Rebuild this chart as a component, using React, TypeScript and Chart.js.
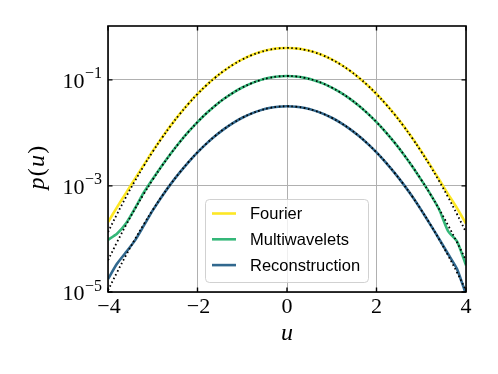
import React, { useEffect, useRef } from "react";
import { Chart, registerables } from "chart.js";
Chart.register(...registerables);

const U = [-4.0, -3.8, -3.6, -3.4, -3.2, -3.0, -2.8, -2.6, -2.4, -2.2, -2.0, -1.8, -1.6, -1.4, -1.2, -1.0, -0.8, -0.6, -0.4, -0.2, 0,
  0.2, 0.4, 0.6, 0.8, 1.0, 1.2, 1.4, 1.6, 1.8, 2.0, 2.2, 2.4, 2.6, 2.8, 3.0, 3.2, 3.4, 3.6, 3.8, 4.0];

const fourier = [2.07e-4, 3.95e-4, 7.3e-4, 1.36e-3, 2.48e-3, 4.55e-3, 8.0e-3, 0.0137, 0.0226, 0.0357, 0.0543, 0.0793, 0.1113, 0.1502, 0.1946, 0.2425, 0.2903, 0.3338, 0.369, 0.3917, 0.3995,
  0.3915, 0.3688, 0.3336, 0.2901, 0.2423, 0.1945, 0.15, 0.1111, 0.0791, 0.0541, 0.0356, 0.0225, 0.0137, 0.00798, 0.0045, 2.45e-3, 1.32e-3, 7.0e-4, 3.8e-4, 1.95e-4];
const fourierFit = [1.34e-4, 2.92e-4, 6.12e-4, 1.232e-3, 2.384e-3, 4.432e-3, 7.915e-3, 0.01358, 0.02239, 0.03547, 0.05399, 0.07895, 0.1109, 0.1497, 0.1942, 0.242, 0.2897, 0.3332, 0.3683, 0.391, 0.3989,
  0.391, 0.3683, 0.3332, 0.2897, 0.242, 0.1942, 0.1497, 0.1109, 0.07895, 0.05399, 0.03547, 0.02239, 0.01358, 7.915e-3, 4.432e-3, 2.384e-3, 1.232e-3, 6.12e-4, 2.92e-4, 1.34e-4];

const multiwavelets = [9.6e-5, 1.25e-4, 1.95e-4, 3.75e-4, 7.5e-4, 1.35e-3, 2.38e-3, 4.05e-3, 6.66e-3, 0.01053, 0.01601, 0.02341, 0.03288, 0.04437, 0.05755, 0.0717, 0.08582, 0.09872, 0.1091, 0.1159, 0.1182,
  0.1157, 0.1089, 0.0986, 0.0857, 0.07158, 0.05745, 0.04428, 0.03279, 0.02334, 0.01596, 0.01049, 6.62e-3, 4.01e-3, 2.33e-3, 1.3e-3, 7.1e-4, 3.6e-4, 1.4e-4, 9.0e-5, 3.2e-5];
const multiwaveletsFit = [3.96e-5, 8.64e-5, 1.81e-4, 3.65e-4, 7.06e-4, 1.312e-3, 2.343e-3, 4.021e-3, 6.629e-3, 0.0105, 0.01598, 0.02337, 0.03283, 0.04432, 0.05749, 0.07163, 0.08575, 0.09865, 0.109, 0.1158, 0.1181,
  0.1158, 0.109, 0.09865, 0.08575, 0.07163, 0.05749, 0.04432, 0.03283, 0.02337, 0.01598, 0.0105, 6.629e-3, 4.021e-3, 2.343e-3, 1.312e-3, 7.06e-4, 3.65e-4, 1.81e-4, 8.64e-5, 3.96e-5];

const reconstruction = [1.75e-5, 3.4e-5, 5.6e-5, 9.3e-5, 1.78e-4, 3.45e-4, 6.25e-4, 1.08e-3, 1.78e-3, 2.82e-3, 4.29e-3, 6.28e-3, 8.83e-3, 0.01192, 0.01547, 0.01928, 0.02308, 0.02655, 0.02934, 0.03116, 0.0318,
  0.03116, 0.02934, 0.02655, 0.02308, 0.01928, 0.01547, 0.01192, 8.83e-3, 6.28e-3, 4.29e-3, 2.82e-3, 1.78e-3, 1.08e-3, 6.3e-4, 3.5e-4, 1.88e-4, 1.0e-4, 5.2e-5, 2.7e-5, 9.0e-6];
const reconstructionFit = [1.07e-5, 2.33e-5, 4.88e-5, 9.82e-5, 1.9e-4, 3.53e-4, 6.31e-4, 1.083e-3, 1.785e-3, 2.828e-3, 4.3e-3, 6.29e-3, 8.84e-3, 0.01193, 0.01548, 0.01929, 0.02309, 0.02656, 0.02935, 0.03117, 0.0318,
  0.03117, 0.02935, 0.02656, 0.02309, 0.01929, 0.01548, 0.01193, 8.84e-3, 6.29e-3, 4.3e-3, 2.828e-3, 1.785e-3, 1.083e-3, 6.31e-4, 3.53e-4, 1.9e-4, 9.82e-5, 4.88e-5, 2.33e-5, 1.07e-5];

const X_TICKS = [-4, -2, 0, 2, 4];
const X_TICK_LABELS = ["\u22124", "\u22122", "0", "2", "4"];
const Y_TICKS = [1e-5, 1e-3, 1e-1];
const Y_TICK_EXP = ["\u22125", "\u22123", "\u22121"];
const LEGEND_LABELS = ["Fourier", "Multiwavelets", "Reconstruction"];
const COLORS = ["#fde725", "#35b779", "#31688e"];

const SERIF = "'Liberation Serif', 'DejaVu Serif', serif";
const SANS = "'Liberation Sans', 'DejaVu Sans', sans-serif";

export default function App() {
  const ref = useRef<HTMLCanvasElement>(null);
  useEffect(() => {
    const pts = (ys: number[]) => U.map((x, i) => ({ x, y: ys[i] }));
    const series = [fourier, multiwavelets, reconstruction];
    const fits = [fourierFit, multiwaveletsFit, reconstructionFit];

    const overlay = {
      id: "overlay",
      afterDraw(chart: any) {
        const { ctx, chartArea: a, scales } = chart;
        const xs = scales.x, ys = scales.y;
        ctx.save();

        // legend
        const cx = (a.left + a.right) / 2;
        const bw = 163, bh = 83;
        const bx = cx - bw / 2, by = a.bottom - 9.5 - bh;
        ctx.beginPath();
        ctx.roundRect(bx, by, bw, bh, 4);
        ctx.fillStyle = "rgba(255,255,255,0.8)";
        ctx.fill();
        ctx.strokeStyle = "rgba(204,204,204,0.9)";
        ctx.lineWidth = 1;
        ctx.stroke();
        ctx.font = `16.5px ${SANS}`;
        ctx.textBaseline = "middle";
        ctx.textAlign = "left";
        for (let i = 0; i < 3; i++) {
          const yy = by + 14 + i * 25.8;
          ctx.strokeStyle = COLORS[i];
          ctx.lineWidth = 2.6;
          ctx.beginPath();
          ctx.moveTo(bx + 6.5, yy);
          ctx.lineTo(bx + 30.5, yy);
          ctx.stroke();
          ctx.fillStyle = "#000";
          ctx.fillText(LEGEND_LABELS[i], bx + 44.5, yy + 1);
        }

        // frame
        ctx.strokeStyle = "#000";
        ctx.lineWidth = 1.6;
        ctx.strokeRect(a.left, a.top, a.right - a.left, a.bottom - a.top);

        // inward ticks
        ctx.lineWidth = 1.4;
        const tl = 4.5;
        for (const v of X_TICKS) {
          const px = xs.getPixelForValue(v);
          ctx.beginPath();
          ctx.moveTo(px, a.bottom); ctx.lineTo(px, a.bottom - tl);
          ctx.moveTo(px, a.top); ctx.lineTo(px, a.top + tl);
          ctx.stroke();
        }
        for (const v of Y_TICKS) {
          const py = ys.getPixelForValue(v);
          ctx.beginPath();
          ctx.moveTo(a.left, py); ctx.lineTo(a.left + tl, py);
          ctx.moveTo(a.right, py); ctx.lineTo(a.right - tl, py);
          ctx.stroke();
        }

        // x tick labels
        ctx.fillStyle = "#000";
        ctx.textBaseline = "alphabetic";
        ctx.textAlign = "center";
        ctx.font = `22px ${SERIF}`;
        X_TICKS.forEach((v, i) => {
          const px = xs.getPixelForValue(v);
          ctx.fillText(X_TICK_LABELS[i], px + (v < 0 ? 1 : 0), a.bottom + 21);
        });

        // y tick labels
        Y_TICKS.forEach((v, i) => {
          const py = ys.getPixelForValue(v);
          const right = a.left - 6;
          ctx.textAlign = "right";
          ctx.font = `16px ${SERIF}`;
          ctx.fillText(Y_TICK_EXP[i], right, py - 1.5);
          const ew = ctx.measureText(Y_TICK_EXP[i]).width;
          ctx.font = `22px ${SERIF}`;
          ctx.fillText("10", right - ew - 0.5, py + 7.7);
        });

        // x title
        ctx.textAlign = "center";
        ctx.font = `italic 24px ${SERIF}`;
        ctx.fillText("u", cx, a.bottom + 48);

        // y title p(u), rotated
        ctx.save();
        ctx.translate(44, (a.top + a.bottom) / 2 + 8);
        ctx.rotate(-Math.PI / 2);
        const parts = [["p", true], ["(", false], ["u", true], [")", false]] as [string, boolean][];
        let total = 0;
        for (const [s, it] of parts) {
          ctx.font = `${it ? "italic " : ""}24px ${SERIF}`;
          total += ctx.measureText(s).width + 1.2;
        }
        let xx = -total / 2;
        ctx.textAlign = "left";
        for (const [s, it] of parts) {
          ctx.font = `${it ? "italic " : ""}24px ${SERIF}`;
          ctx.fillText(s, xx, 0);
          xx += ctx.measureText(s).width + 1.2;
        }
        ctx.restore();

        ctx.restore();
      },
    };

    const datasets: any[] = [];
    fits.forEach((f) => {
      datasets.push({
        data: pts(f),
        borderColor: "#000",
        borderWidth: 1.8,
        borderDash: [1.6, 2.6],
        pointRadius: 0,
        tension: 0.4,
        fill: false,
      });
    });
    series.forEach((s, i) => {
      datasets.push({
        data: pts(s),
        borderColor: COLORS[i],
        borderWidth: 2.6,
        pointRadius: 0,
        tension: 0.2,
        fill: false,
      });
    });

    const chart = new Chart(ref.current as HTMLCanvasElement, {
      type: "line",
      data: { datasets },
      options: {
        animation: false,
        responsive: false,
        devicePixelRatio: 1,
        layout: { padding: { left: 108, right: 32, top: 26, bottom: 82 } },
        plugins: { legend: { display: false }, tooltip: { enabled: false } },
        scales: {
          x: {
            type: "linear",
            min: -4,
            max: 4,
            ticks: { display: false, stepSize: 2 },
            grid: { color: "#b0b0b0", lineWidth: 1, drawTicks: false },
            border: { display: false },
            afterFit: (s: any) => { s.height = 0; },
            afterBuildTicks: (s: any) => { s.ticks = X_TICKS.map((v) => ({ value: v })); },
          },
          y: {
            type: "logarithmic",
            min: 1e-5,
            max: 1.035,
            ticks: { display: false },
            grid: { color: "#b0b0b0", lineWidth: 1, drawTicks: false },
            border: { display: false },
            afterFit: (s: any) => { s.width = 0; },
            afterBuildTicks: (s: any) => { s.ticks = Y_TICKS.map((v) => ({ value: v })); },
          },
        },
      },
      plugins: [overlay],
    });
    return () => chart.destroy();
  }, []);

  return (
    <div style={{ position: "fixed", left: 0, top: 0, width: 498, height: 374, background: "#fff" }}>
      <canvas ref={ref} width={498} height={374} style={{ display: "block", width: 498, height: 374 }} />
    </div>
  );
}
